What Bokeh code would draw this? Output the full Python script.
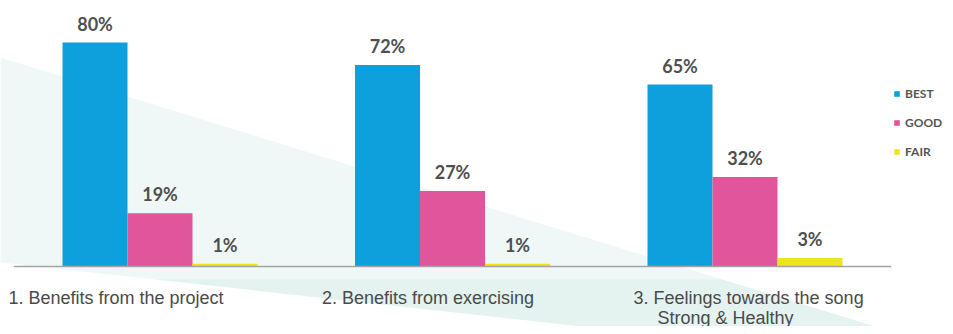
from bokeh.plotting import figure
from bokeh.models import (Range1d, Legend, LegendItem,
                          PolyAnnotation, BoxAnnotation, ColumnDataSource)
from bokeh.core.properties import value
from bokeh.embed import file_html
from bokeh.resources import INLINE

# ---- data -------------------------------------------------------------
categories = ["1. Benefits from the project",
              "2. Benefits from exercising",
              "3. Feelings towards the song"]
category_subtitles = ["", "", "Strong & Healthy"]
series = ["BEST", "GOOD", "FAIR"]
best = [80, 72, 65]
good = [19, 27, 32]
fair = [1, 1, 3]

# ---- styles / layout --------------------------------------------------
colors = {"BEST": "#0ea0dc", "GOOD": "#e0559b", "FAIR": "#ece51c"}
group_step = 4.5          # distance between group starts, in bar widths
title_offsets = [-86.5, -65.5, -46.5]
subtitle_offset = -22.5
W, H = 945, 326

values = {"BEST": best, "GOOD": good, "FAIR": fair}

p = figure(width=W, height=H,
           x_range=Range1d(-1.454, -1.454 + W / 65.0),
           y_range=Range1d(-60 / 2.8, 266 / 2.8),
           x_axis_type=None, y_axis_type=None,
           output_backend="svg", toolbar_location=None,
           min_border_left=0, min_border_right=0,
           min_border_top=0, min_border_bottom=0)
p.grid.visible = False
p.outline_line_color = None
p.background_fill_color = "white"
p.border_fill_color = "white"

# decorative background band
band = PolyAnnotation(xs=[0, W, W, 0], ys=[57, 347.6, 366, 262],
                      xs_units="canvas", ys_units="canvas",
                      fill_color="#e4f2f0", fill_alpha=1.0,
                      line_color=None, level="underlay")
p.add_layout(band)
veil = BoxAnnotation(left=0, right=900, top=0, bottom=279,
                     left_units="canvas", right_units="canvas",
                     top_units="canvas", bottom_units="canvas",
                     fill_color="white", fill_alpha=0.45,
                     line_color=None, level="underlay")
p.add_layout(veil)

group_x = [g * group_step for g in range(len(categories))]

items = []
for si, s in enumerate(series):
    src = ColumnDataSource(dict(
        x=[gx + si for gx in group_x],
        top=values[s],
        label=[f"{v}%" for v in values[s]],
    ))
    r = p.vbar(x="x", top="top", width=1.0, source=src,
               fill_color=colors[s], line_color=None)
    p.text(x="x", y="top", text="label", source=src,
           text_align="center", text_baseline="alphabetic", y_offset=-19,
           text_font=value("Lato"), text_font_style="bold",
           text_font_size="18px", text_color="#4f4f4f")
    items.append(LegendItem(label=s, renderers=[r]))

# baseline
first_edge = group_x[0] - 0.5
last_edge = group_x[-1] + len(series) - 0.5
p.segment(x0=[first_edge - 0.75], x1=[last_edge + 0.75], y0=[0], y1=[0],
          line_color="#a3a3a3", line_width=1.5)

# category labels
cat_src = ColumnDataSource(dict(
    x=group_x,
    y=[0] * len(categories),
    text=categories,
    xo=title_offsets,
))
p.text(x="x", y="y", text="text", source=cat_src, x_offset="xo", y_offset=31,
       text_align="left", text_baseline="middle",
       text_font=value("Liberation Sans"), text_font_size="18px",
       text_color="#4a4a4a")

sub_src = ColumnDataSource(dict(
    x=[gx for gx, t in zip(group_x, category_subtitles) if t],
    y=[0 for t in category_subtitles if t],
    text=[t for t in category_subtitles if t],
))
p.text(x="x", y="y", text="text", source=sub_src, x_offset=subtitle_offset,
       y_offset=51, text_align="left", text_baseline="middle",
       text_font=value("Liberation Sans"), text_font_size="18px",
       text_color="#4a4a4a")

legend = Legend(items=items, location=(893, 167.5), orientation="vertical",
                glyph_width=7, glyph_height=7, label_height=14,
                label_standoff=5, spacing=14, padding=0, margin=0,
                border_line_color=None, background_fill_alpha=0,
                label_text_font="Lato", label_text_font_style="bold",
                label_text_font_size="12px", label_text_color="#555555")
p.add_layout(legend)

open("out.html", "w").write(file_html(p, INLINE))
